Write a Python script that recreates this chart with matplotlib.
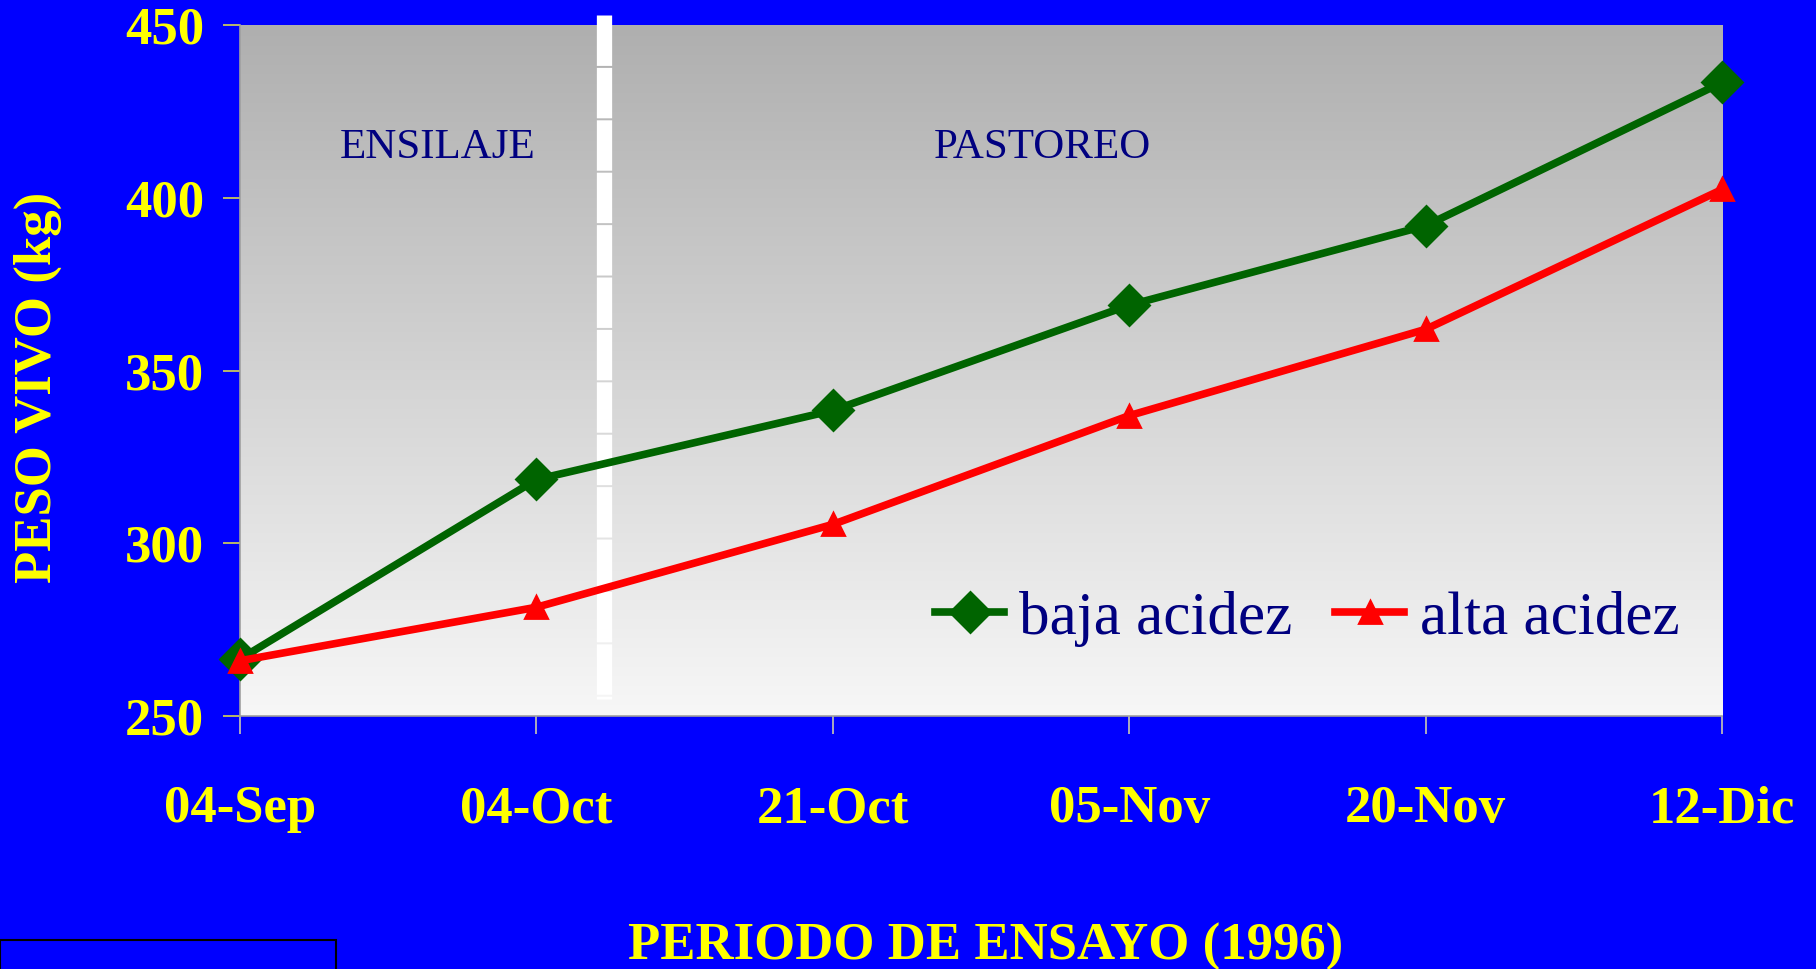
import numpy as np
import matplotlib
matplotlib.use("Agg")
import matplotlib.pyplot as plt
from matplotlib.colors import LinearSegmentedColormap
from matplotlib.patches import Rectangle

fechas = ["04-Sep", "04-Oct", "21-Oct", "05-Nov", "20-Nov", "12-Dic"]
baja_acidez = [266.5, 318.5, 338.5, 369, 392, 433.5]
alta_acidez = [266, 281.5, 305.5, 337, 362, 402.5]
y_ticks = [250, 300, 350, 400, 450]

# transition ensilaje -> pastoreo (between 04-Oct and 21-Oct)
corte = 1.228

plt.rcParams["font.family"] = ["Liberation Serif", "DejaVu Serif"]

fig = plt.figure(figsize=(18.16, 9.69), dpi=100, facecolor="#0000ff")
ax = fig.add_axes([0.1322, 0.2611, 0.8161, 0.7126])
ax.set_facecolor("#0000ff")

x = np.arange(len(fechas))
ax.set_xlim(0, len(fechas) - 1)
ax.set_ylim(250, 450)

# gray gradient plot area
grad = LinearSegmentedColormap.from_list("g", ["#afafaf", "#f7f7f7"])
ax.imshow(np.linspace(0, 1, 256).reshape(-1, 1), cmap=grad, origin="upper",
          extent=[0, len(fechas) - 1, 250, 450], aspect="auto", zorder=0)

# white separator bar
ax.plot([corte, corte], [453, 254.9], color="white", lw=11,
        linestyle=(0, (3.3, 0.13)), solid_capstyle="butt",
        dash_capstyle="butt", clip_on=False, zorder=2)

ax.plot(x, baja_acidez, color="#006400", lw=5.5, marker="D", ms=20,
        mew=2, solid_joinstyle="round", label="baja acidez",
        clip_on=False, zorder=4)
ax.plot(x, alta_acidez, color="#ff0000", lw=5.5, marker="^", ms=16,
        mew=2, solid_joinstyle="round", label="alta acidez",
        clip_on=False, zorder=4)

ax.text(0.665, 414.5, "ENSILAJE", color="#000080", fontsize=31,
        ha="center", va="center")
ax.text(2.707, 414.5, "PASTOREO", color="#000080", fontsize=31,
        ha="center", va="center")

ax.set_xticks(x)
ax.set_xticklabels(fechas)
ax.set_yticks(y_ticks)
ax.tick_params(axis="x", colors="#c8c8b0", length=13, width=1.2, pad=37,
               labelcolor="#ffff00", labelsize=38)
ax.tick_params(axis="y", colors="#d8d850", length=12, width=1.2, pad=14,
               labelcolor="#ffff00", labelsize=38)
for lbl in ax.get_xticklabels() + ax.get_yticklabels():
    lbl.set_fontweight("bold")

for s in ["top", "right"]:
    ax.spines[s].set_visible(False)
for s in ["left", "bottom"]:
    ax.spines[s].set_color("#a0a0a0")
    ax.spines[s].set_linewidth(1.2)

leg = ax.legend(ncol=2, frameon=False, fontsize=44, loc="center",
                bbox_to_anchor=(0.72, 0.141), handlelength=1.13,
                handletextpad=0.25, columnspacing=0.7, borderpad=0)
for t in leg.get_texts():
    t.set_color("#000080")

fig.text(0.543, 0.023, "PERIODO DE ENSAYO (1996)", color="#ffff00",
         fontsize=38, fontweight="bold", ha="center", va="center")
fig.text(0.021, 0.60, "PESO VIVO (kg)", color="#ffff00", fontsize=38,
         fontweight="bold", ha="center", va="center", rotation=90)

fig.patches.append(Rectangle((0.0, -0.01), 0.185, 0.04, transform=fig.transFigure,
                             facecolor="none", edgecolor="black", lw=1.5))

fig.savefig("out.png", dpi=100, facecolor=fig.get_facecolor())
